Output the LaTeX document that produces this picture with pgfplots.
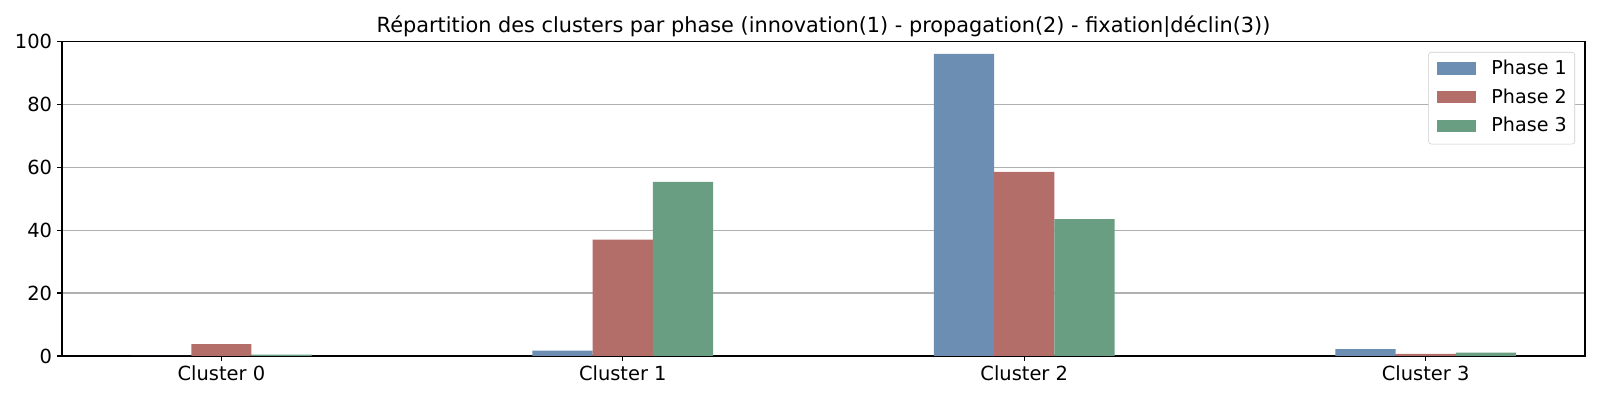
\documentclass[border=0pt]{standalone}
\usepackage{fontspec}
\setmainfont{DejaVu Sans}
\usepackage{pgfplots}
\pgfplotsset{compat=1.18}
\definecolor{PhaseOne}{RGB}{108,142,178}
\definecolor{PhaseTwo}{RGB}{180,110,106}
\definecolor{PhaseThree}{RGB}{106,158,131}
\definecolor{GridGray}{RGB}{176,176,176}

\begin{document}
\fontsize{14pt}{16pt}\selectfont
\begin{tikzpicture}
\useasboundingbox (0,0) rectangle (1152pt,288pt);
\begin{axis}[
    at={(44.64pt,31.68pt)}, anchor=south west,
    scale only axis,
    width=1096.6pt, height=226.6pt,
    ybar, bar width=0.15,
    xmin=-0.397, xmax=3.397,
    ymin=0, ymax=100,
    xtick={0,1,2,3},
    xticklabels={Cluster 0, Cluster 1, Cluster 2, Cluster 3},
    ytick={0,20,40,60,80,100},
    ymajorgrids,
    major grid style={GridGray, line width=0.8pt},
    axis line style={line width=0.8pt},
    tick style={black, line width=0.8pt},
    major tick length=3.5pt,
    tick align=outside,
    xtick pos=bottom, ytick pos=left,
    tick label style={inner sep=0pt},
    xticklabel style={yshift=-3.5pt},
    yticklabel style={xshift=-3.5pt},
    /pgf/number format/assume math mode=true,
    title={Répartition des clusters par phase (innovation(1) - propagation(2) - fixation|déclin(3))},
    title style={at={(0.5,1)}, anchor=base, yshift=0.5pt, inner sep=0pt,
        font=\fontsize{15pt}{18pt}\selectfont},
    legend style={at={(1,1)}, anchor=north east, xshift=-7.2pt, yshift=-7.7pt,
        draw=black!20, rounded corners=2pt, fill=white,
        inner xsep=5.8pt, inner ysep=2pt, row sep=0pt,
        font=\fontsize{13.75pt}{16pt}\selectfont,
        nodes={inner sep=0pt, text height=14pt, text depth=6.7pt},
        /tikz/every odd column/.append style={column sep=11.5pt}},
    legend cell align=left,
    legend image code/.code={\fill[#1, sharp corners] (0pt,-3.8pt) rectangle (28pt,5.3pt);},
]
\addplot[fill=PhaseOne, draw=none, bar shift=-0.15] coordinates {(0,0) (1,1.7) (2,96.0) (3,2.2)};
\addplot[fill=PhaseTwo, draw=none, bar shift=0] coordinates {(0,3.8) (1,37.0) (2,58.5) (3,0.7)};
\addplot[fill=PhaseThree, draw=none, bar shift=0.15] coordinates {(0,0.4) (1,55.3) (2,43.5) (3,1.1)};
\legend{Phase 1, Phase 2, Phase 3}
\end{axis}
\end{tikzpicture}
\end{document}
